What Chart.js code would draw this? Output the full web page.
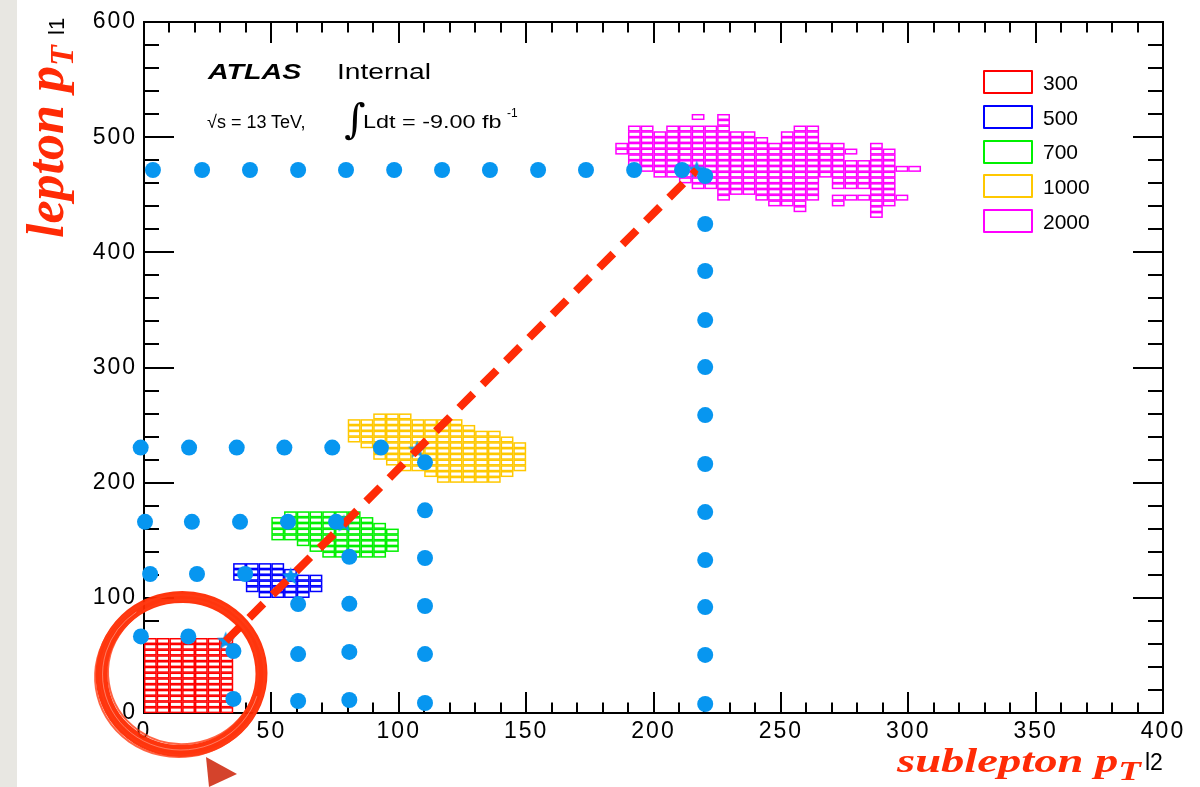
<!DOCTYPE html>
<html lang="en">
<head>
  <meta charset="UTF-8" />
  <title>lepton pT vs sublepton pT</title>
  <script src="https://cdn.jsdelivr.net/npm/chart.js"></script>
  <style>
    html, body { margin: 0; padding: 0; background: #fff; }
    #wrap { position: relative; width: 1200px; height: 787px; overflow: hidden; }
    #strip { position: absolute; left: 0; top: 0; width: 17px; height: 787px; background: #e8e7e2; }
    #chart { position: absolute; left: 0; top: 0; }
    .t { position: absolute; line-height: 1; white-space: nowrap; font-family: "Liberation Sans", Arial, sans-serif; color: #000; transform-origin: 0 0; }
    .red { font-family: "Liberation Serif", serif; font-weight: bold; font-style: italic; color: #ff2b06; }
    .box { position: absolute; box-sizing: border-box; border: 2px solid; width: 50px; height: 24px; border-radius: 1px; }
  </style>
</head>
<body>
<div id="wrap">
  <div id="strip"></div>
  <canvas id="chart" width="1200" height="787"></canvas>

  <div class="t" style="left:208px; top:61px; font-size:22px; font-weight:bold; font-style:italic; transform:scaleX(1.3)">ATLAS</div>
  <div class="t" style="left:337px; top:61px; font-size:22px; transform:scaleX(1.28)">Internal</div>
  <div class="t" style="left:207px; top:113px; font-size:18px">&radic;s = 13 TeV,</div>
  <div class="t" style="left:344px; top:99px; font-size:41px; font-family:'DejaVu Serif',serif">&int;</div>
  <div class="t" style="left:363px; top:113px; font-size:18px; transform:scaleX(1.3)">Ldt = -9.00 fb</div>
  <div class="t" style="left:507px; top:107px; font-size:12px">-1</div>

  <div id="legend"></div>

  <div class="t" style="left:46px; top:35px; font-size:22px; transform:rotate(-90deg)">l1</div>
  <div class="t" style="left:1145px; top:751px; font-size:23px">l2</div>

  <div class="t red" style="left:20px; top:238px; font-size:52px; transform:rotate(-90deg)">lepton p<span style="font-size:34px; position:relative; top:10px">T</span></div>
  <div class="t red" style="left:897px; top:744px; font-size:34px; transform:scaleX(1.37)">sublepton p<span style="font-size:27px; position:relative; top:8px">T</span></div>
</div>

<script>
  // axis ranges
  const xMin = 0, xMax = 400, xStep = 50, xMinor = 10;
  const yMin = 0, yMax = 600, yStep = 100, yMinor = 20;

  const massLabels = ['300', '500', '700', '1000', '2000'];
  const massColors = ['#ff0000', '#0000ff', '#00f000', '#ffc800', '#ff00ff'];
  const binSize = 5;

  // occupied bins: [y low edge, first x low edge, last x low edge]
  const cells300 = [[60,0,30],[55,0,30],[50,0,30],[45,0,30],[40,0,30],[35,0,30],[30,0,30],
                    [25,0,30],[20,0,30],[15,0,30],[10,0,30],[5,0,30],[0,0,30]];
  const cells500 = [[125,35,50],[120,35,55],[115,35,65],[110,40,65],[105,40,65],[100,45,60]];
  const cells700 = [[170,55,80],[165,50,85],[160,50,90],[155,50,95],[150,50,95],[145,60,95],
                    [140,65,95],[135,70,90]];
  const cells1000 = [[255,90,100],[250,80,120],[245,80,125],[240,80,135],[235,80,140],[230,85,145],
                     [225,90,145],[220,90,145],[215,95,145],[210,100,145],[205,110,140],[200,115,135]];
  const cells2000 = [[515,215,215],[515,225,225],[510,225,225],
                     [505,190,195],[505,205,225],[505,255,260],
                     [500,190,235],[500,250,260],[495,190,240],[495,250,260],
                     [490,185,270],[490,285,285],[485,185,275],[485,285,290],
                     [480,190,270],[480,285,290],[475,190,290],[470,195,300],[465,200,290],
                     [460,210,260],[460,270,290],[455,215,260],[455,270,290],
                     [450,225,260],[450,285,290],[445,225,225],[445,240,260],[445,270,295],
                     [440,245,255],[440,270,270],[440,285,290],[435,255,255],[435,285,285],[430,285,285]];
  const cellSets = [cells300, cells500, cells700, cells1000, cells2000];

  // scan points (sublepton pT, lepton pT)
  const scan300 = [[-1.2,66.5],[17.4,66.5],[35.1,53.8],[35.1,12.2]];
  const scan500 = [[2.4,120.7],[20.8,120.7],[39.7,120.7],[60.5,94.6],[60.5,51.2],[60.5,10.4]];
  const scan700 = [[0.4,166],[18.8,166],[37.7,166],[56.5,166],[75.4,166],
                   [80.6,135.6],[80.6,94.8],[80.6,53],[80.6,11.3]];
  const scan1000 = [[-1.3,230.5],[17.7,230.5],[36.4,230.5],[55.1,230.5],[73.9,230.5],[93,230.5],
                    [110.3,217.7],[110.3,176],[110.3,134.6],[110.3,92.9],[110.3,51.2],[110.3,8.7]];
  const scan2000 = [[3.5,471.5],[22.8,471.5],[41.6,471.5],[60.5,471.5],[79.3,471.5],[98.2,471.5],
                    [117,471.5],[135.8,471.5],[154.7,471.5],[173.5,471.5],[192.4,471.5],[211.2,471.5],
                    [220.3,466.3],[220.3,424.6],[220.3,383.8],[220.3,341.2],[220.3,300.4],[220.3,258.7],
                    [220.3,216.2],[220.3,174.5],[220.3,132.8],[220.3,92],[220.3,50.4],[220.3,7.8]];
  const scans = [scan300, scan500, scan700, scan1000, scan2000];

  // chosen cut per mass point
  const optX = [32.1, 57.6, 78.5, 107.2, 217];
  const optY = [62.5, 118.4, 164.2, 228.4, 471.5];

  const dotColor = '#0796f0';

  // legend
  const legend = document.getElementById('legend');
  massLabels.forEach((m, i) => {
    const top = 70 + i * 34.8;
    const b = document.createElement('div');
    b.className = 'box';
    b.style.left = '983px';
    b.style.top = top + 'px';
    b.style.borderColor = massColors[i];
    legend.appendChild(b);
    const l = document.createElement('div');
    l.className = 't';
    l.style.left = '1043px';
    l.style.top = (top + 12 + 7.5 - 17.8) + 'px';
    l.style.fontSize = '21px';
    l.textContent = m;
    legend.appendChild(l);
  });

  function starImage(r, color) {
    const c = document.createElement('canvas');
    const s = Math.ceil(r * 2) + 2;
    c.width = s; c.height = s;
    const g = c.getContext('2d');
    g.fillStyle = color;
    g.beginPath();
    for (let i = 0; i < 10; i++) {
      const a = -Math.PI / 2 + i * Math.PI / 5;
      const rr = i % 2 ? r * 0.42 : r;
      g.lineTo(s / 2 + rr * Math.cos(a), s / 2 + rr * Math.sin(a));
    }
    g.closePath();
    g.fill();
    return c;
  }

  const frameTicks = {
    id: 'frameTicks',
    beforeDraw(chart) {
      chart.ctx.letterSpacing = '2px';
    },
    beforeDatasetsDraw(chart) {
      const { ctx, chartArea: a, scales: { x, y } } = chart;
      ctx.save();
      ctx.strokeStyle = '#000';
      ctx.lineWidth = 2;
      ctx.strokeRect(a.left, a.top, a.right - a.left, a.bottom - a.top);
      ctx.beginPath();
      for (let v = xMin; v <= xMax; v += xMinor) {
        const px = Math.round(x.getPixelForValue(v));
        const len = v % xStep === 0 ? 21 : 10.5;
        ctx.moveTo(px, a.bottom); ctx.lineTo(px, a.bottom - len);
        ctx.moveTo(px, a.top); ctx.lineTo(px, a.top + len);
      }
      for (let v = yMin; v <= yMax; v += yMinor) {
        const py = Math.round(y.getPixelForValue(v));
        const len = v % yStep === 0 ? 30 : 15;
        ctx.moveTo(a.left, py); ctx.lineTo(a.left + len, py);
        ctx.moveTo(a.right, py); ctx.lineTo(a.right - len, py);
      }
      ctx.stroke();
      ctx.restore();
    }
  };

  const boxCells = {
    id: 'boxCells',
    beforeDatasetsDraw(chart) {
      const { ctx, scales: { x, y } } = chart;
      ctx.save();
      ctx.lineWidth = 1.5;
      cellSets.forEach((runs, i) => {
        ctx.strokeStyle = massColors[i];
        runs.forEach(([yl, x0, x1]) => {
          for (let xl = x0; xl <= x1; xl += binSize) {
            const l = x.getPixelForValue(xl), r = x.getPixelForValue(xl + binSize);
            const t = y.getPixelForValue(yl + binSize), b = y.getPixelForValue(yl);
            ctx.strokeRect(l + 0.7, t + 0.6, r - l - 1.4, b - t - 1.2);
          }
        });
      });
      ctx.restore();
    }
  };

  // hand drawn circle + arrow head annotation
  const scribble = {
    id: 'scribble',
    afterDraw(chart) {
      const ctx = chart.ctx;
      ctx.save();
      ctx.letterSpacing = '0px';
      ctx.strokeStyle = 'rgba(255,42,0,0.95)';
      ctx.lineWidth = 12;
      ctx.beginPath();
      ctx.ellipse(181.5, 674, 80, 77, -0.1, 0, Math.PI * 2);
      ctx.stroke();
      const rings = [[180, 676, 85, 81, 2], [183, 672, 75, 72, 2], [182, 675, 82, 80, 1.2]];
      ctx.strokeStyle = 'rgba(255,60,20,0.8)';
      rings.forEach(([cx, cy, rx, ry, w]) => {
        ctx.lineWidth = w;
        ctx.beginPath();
        ctx.ellipse(cx, cy, rx, ry, -0.15, 0, Math.PI * 2);
        ctx.stroke();
      });
      ctx.strokeStyle = 'rgba(255,255,255,0.35)';
      ctx.lineWidth = 1;
      ctx.beginPath();
      ctx.ellipse(181.5, 674, 79, 76, -0.1, 0.4, 4.2);
      ctx.stroke();
      ctx.fillStyle = '#d4432c';
      ctx.beginPath();
      ctx.moveTo(206, 757); ctx.lineTo(237, 774); ctx.lineTo(209, 787);
      ctx.closePath();
      ctx.fill();
      ctx.restore();
    }
  };

  const datasets = scans.map((s, i) => ({
    label: massLabels[i],
    data: s.map(p => ({ x: p[0], y: p[1] })),
    pointStyle: 'circle',
    pointRadius: 8,
    pointBorderWidth: 0,
    backgroundColor: dotColor,
    borderColor: dotColor,
    showLine: false,
    clip: false,
    order: 0
  }));
  datasets.push({
    label: 'cut line',
    data: optX.map((v, i) => ({ x: v, y: optY[i] })),
    showLine: true,
    borderColor: '#ff2b06',
    borderWidth: 8,
    borderDash: [20, 13],
    borderCapStyle: 'butt',
    pointRadius: 0,
    order: 1
  });
  datasets.push({
    label: 'optimal',
    data: optX.map((v, i) => ({ x: v, y: optY[i] })),
    pointStyle: starImage(9.5, dotColor),
    pointRadius: 9,
    showLine: false,
    clip: false,
    order: 2
  });

  new Chart(document.getElementById('chart'), {
    type: 'scatter',
    data: { datasets },
    options: {
      responsive: false,
      animation: false,
      layout: { padding: { top: 22, right: 37, bottom: 0, left: 0 } },
      plugins: { legend: { display: false }, tooltip: { enabled: false } },
      scales: {
        x: {
          type: 'linear', min: xMin, max: xMax,
          border: { display: false },
          grid: { drawOnChartArea: false, drawTicks: false },
          ticks: { stepSize: xStep, padding: 5, color: '#000', font: { family: 'Liberation Sans', size: 23 } },
          afterFit(scale) { scale.height = 74; }
        },
        y: {
          type: 'linear', min: yMin, max: yMax,
          border: { display: false },
          grid: { drawOnChartArea: false, drawTicks: false },
          ticks: { stepSize: yStep, padding: 7, color: '#000', font: { family: 'Liberation Sans', size: 23 } },
          afterFit(scale) { scale.width = 144; }
        }
      }
    },
    plugins: [frameTicks, boxCells, scribble]
  });
</script>
</body>
</html>
